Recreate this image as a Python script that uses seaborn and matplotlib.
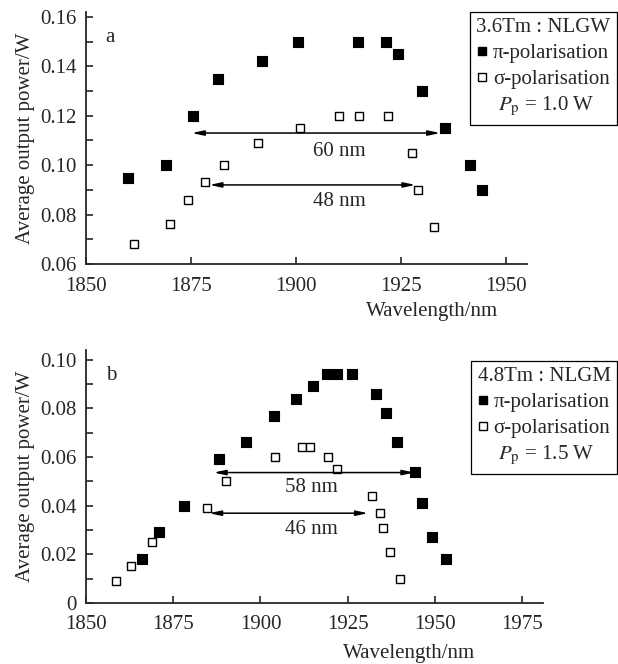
import matplotlib
matplotlib.use("Agg")
import matplotlib.pyplot as plt
import seaborn as sns
import pandas as pd
from matplotlib.lines import Line2D

# panel a: 3.6Tm:NLGW, Pp = 1.0 W
a_pi_wl = [1860, 1869, 1875.5, 1881.5, 1892, 1900.5, 1914.8, 1921.5, 1924.2, 1930, 1935.5, 1941.5, 1944.3]
a_pi_pw = [0.095, 0.100, 0.120, 0.135, 0.142, 0.150, 0.150, 0.150, 0.145, 0.130, 0.115, 0.100, 0.090]
a_sig_wl = [1861.5, 1870, 1874.3, 1878.4, 1882.8, 1891, 1901, 1910.2, 1915, 1922, 1927.6, 1929, 1932.8]
a_sig_pw = [0.068, 0.076, 0.086, 0.093, 0.100, 0.109, 0.115, 0.120, 0.120, 0.120, 0.105, 0.090, 0.075]

# panel b: 4.8Tm:NLGM, Pp = 1.5 W
b_pi_wl = [1866, 1871, 1878, 1888, 1896, 1904, 1910.2, 1915, 1919, 1922, 1926.2, 1933, 1936, 1939.2, 1944.2, 1946.2, 1949.2, 1953.2]
b_pi_pw = [0.018, 0.029, 0.040, 0.059, 0.066, 0.077, 0.084, 0.089, 0.094, 0.094, 0.094, 0.086, 0.078, 0.066, 0.054, 0.041, 0.027, 0.018]
b_sig_wl = [1858.7, 1863, 1869, 1884.8, 1890, 1904.2, 1911.8, 1914.2, 1919.3, 1922, 1932, 1934.2, 1935.2, 1937.2, 1940]
b_sig_pw = [0.009, 0.015, 0.025, 0.039, 0.050, 0.060, 0.064, 0.064, 0.060, 0.055, 0.044, 0.037, 0.031, 0.021, 0.010]

# bandwidth arrows: (start, end, y, label, label x, label y)
a_arrows = [(1875.2, 1934.3, 0.113, "60 nm", 1910.3, 0.1055),
            (1879.4, 1928.4, 0.092, "48 nm", 1910.3, 0.0852)]
b_arrows = [(1886.6, 1944.1, 0.0536, "58 nm", 1914.6, 0.0474),
            (1885.3, 1930.8, 0.0369, "46 nm", 1914.6, 0.0302)]

sns.set_style("ticks")
plt.rcParams["font.family"] = ["Liberation Serif", "DejaVu Serif"]
plt.rcParams["mathtext.fontset"] = "stix"
plt.rcParams["xtick.direction"] = "in"
plt.rcParams["ytick.direction"] = "in"

FS = 15
fig = plt.figure(figsize=(6.18, 6.64), dpi=100)
ax1 = fig.add_axes([0.139, 0.6024, 0.714, 0.3796])
ax2 = fig.add_axes([0.139, 0.0919, 0.740, 0.3811])


def draw_panel(ax, pi_wl, pi_pw, sig_wl, sig_pw, arrows, letter, title, pp, legend_top, xlab_pos):
    d_pi = pd.DataFrame({"wl": pi_wl, "pw": pi_pw})
    d_sig = pd.DataFrame({"wl": sig_wl, "pw": sig_pw})
    sns.scatterplot(data=d_pi, x="wl", y="pw", marker="s", s=42, color="black",
                    edgecolor="black", linewidth=0.8, ax=ax, zorder=3)
    sns.scatterplot(data=d_sig, x="wl", y="pw", marker="s", s=38, facecolor="white",
                    edgecolor="black", linewidth=1.0, ax=ax, zorder=3)
    for x0, x1, y, lab, tx, ty in arrows:
        ax.annotate("", xy=(x0, y), xytext=(x1, y),
                    arrowprops=dict(arrowstyle="<|-|>,head_length=0.7,head_width=0.15",
                                    color="black", lw=1.1, shrinkA=0, shrinkB=0))
        ax.text(tx, ty, lab, ha="center", va="center", fontsize=FS)
    ax.text(0.055, 0.9, letter, transform=ax.transAxes, fontsize=FS, ha="center", va="center")

    handles = [
        Line2D([], [], marker="s", ls="", color="black", markersize=5.5),
        Line2D([], [], marker="s", ls="", markerfacecolor="white", markeredgecolor="black", markersize=5.5),
        Line2D([], [], ls="", marker=None),
    ]
    labels = ["π-polarisation", "σ-polarisation", r" $P_{\rm p}$ = " + pp]
    leg = ax.legend(handles, labels, title=title, loc="upper right",
                    bbox_to_anchor=(0.998, legend_top), bbox_transform=fig.transFigure,
                    fontsize=FS, title_fontsize=FS, frameon=True, fancybox=False,
                    edgecolor="black", framealpha=1, handlelength=0.5, handletextpad=0.25,
                    borderpad=0.3, labelspacing=0.3, borderaxespad=0)
    leg.get_frame().set_linewidth(0.9)

    ax.set_xlabel("Wavelength/nm", fontsize=FS)
    ax.xaxis.set_label_coords(*xlab_pos)
    ax.set_ylabel("Average output power/W", fontsize=FS)
    sns.despine(ax=ax)
    for sp in ax.spines.values():
        sp.set_linewidth(1.3)
    ax.tick_params(labelsize=FS, width=1.2, length=5, which="both")
    ax.tick_params(axis="x", pad=9)
    ax.tick_params(axis="y", pad=6.5)


draw_panel(ax1, a_pi_wl, a_pi_pw, a_sig_wl, a_sig_pw, a_arrows, "a",
           "3.6Tm : NLGW", "1.0 W", 0.982, (0.785, -0.15))
ax1.set_xlim(1850, 1955)
ax1.set_ylim(0.06, 0.162)
ax1.set_xticks([1850, 1875, 1900, 1925, 1950])
ax1.set_yticks([0.06, 0.08, 0.10, 0.12, 0.14, 0.16], ["0.06", "0.08", "0.10", "0.12", "0.14", "0.16"])
ax1.set_yticks([0.07, 0.09, 0.11, 0.13, 0.15], minor=True)

draw_panel(ax2, b_pi_wl, b_pi_pw, b_sig_wl, b_sig_pw, b_arrows, "b",
           "4.8Tm : NLGM", "1.5 W", 0.4563, (0.707, -0.162))
ax2.set_xlim(1850, 1981)
ax2.set_ylim(0, 0.104)
ax2.set_xticks([1850, 1875, 1900, 1925, 1950, 1975])
ax2.set_yticks([0, 0.02, 0.04, 0.06, 0.08, 0.10], ["0", "0.02", "0.04", "0.06", "0.08", "0.10"])
ax2.set_yticks([0.01, 0.03, 0.05, 0.07, 0.09], minor=True)

fig.savefig("out.png", dpi=100)
